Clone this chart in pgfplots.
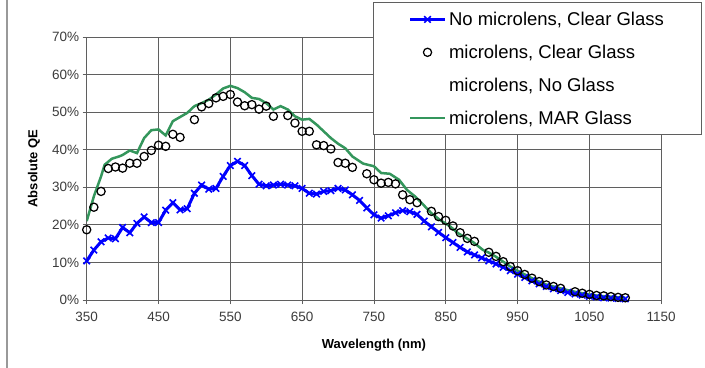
\documentclass[border=0pt]{standalone}
\usepackage{pgfplots}
\pgfplotsset{compat=1.18}
\usepackage{fontspec}
\setmainfont{Liberation Sans}
\definecolor{qeblue}{RGB}{0,0,255}
\definecolor{qegreen}{RGB}{52,150,92}
\definecolor{gridgray}{RGB}{95,95,95}
\definecolor{ticktext}{RGB}{60,60,60}
\begin{document}
\begin{tikzpicture}
\useasboundingbox (-86.7bp,-68bp) rectangle (618.3bp,300bp);
\draw[black!40, line width=1.5bp] (-79.7bp,-68bp) -- (-79.7bp,300bp);
\begin{axis}[
  at={(0,0)}, anchor=south west,
  scale only axis, width=574.5bp, height=263bp,
  xmin=350, xmax=1150, ymin=0, ymax=70,
  xtick={350,450,...,1150}, ytick={0,10,...,70},
  yticklabel={\pgfmathprintnumber{\tick}\%},
  /pgf/number format/assume math mode=true,
  /pgf/number format/1000 sep={},
  grid=major,
  major grid style={gridgray, line width=0.9bp},
  axis line style={gridgray, line width=0.9bp},
  tick align=outside, tick pos=left, major tick length=4bp,
  tick style={gridgray, line width=0.9bp},
  ticklabel style={font=\fontsize{13.5bp}{15bp}\selectfont, text=ticktext},
  xticklabel style={yshift=-5bp},
  xlabel={Wavelength (nm)}, ylabel={Absolute QE},
  label style={font=\fontsize{13bp}{15bp}\selectfont\bfseries},
  xlabel style={at={(axis description cs:0.5,-0.171)}, anchor=center},
  ylabel style={at={(axis description cs:-0.0917,0.5)}, anchor=center},
  legend image code/.code={\draw[mark repeat=2,mark phase=2,#1] plot coordinates {(0bp,0bp) (17.5bp,0bp) (35bp,0bp)};},
  legend style={at={(axis description cs:0.4984,1.1313)}, anchor=north west,
    font=\fontsize{18.5bp}{22bp}\selectfont, draw=gridgray, line width=1bp,
    fill=white, inner xsep=35bp, inner ysep=6.5bp, row sep=13bp,
    nodes={inner sep=2.5bp}},
  legend cell align=left,
]
\addplot[qeblue, line width=3bp, mark=x, mark size=4.6bp, mark options={line width=1.6bp}] coordinates {
(350,10.4)(360,13.3)(370,15.5)(380,16.5)(390,16.3)(400,19.3)(410,17.9)(420,20.4)
(430,22.1)(440,20.6)(450,20.6)(460,23.9)(470,25.9)(480,24.0)(490,24.3)(500,28.4)
(510,30.6)(520,29.5)(530,29.7)(540,32.9)(550,35.8)(560,36.9)(570,35.8)(580,33.1)
(590,30.8)(600,30.4)(610,30.6)(620,30.8)(630,30.6)(640,30.4)(650,29.7)(660,28.4)
(670,28.2)(680,28.9)(690,29.1)(700,29.7)(710,29.3)(720,28.0)(730,26.5)(740,24.5)
(750,22.7)(760,21.8)(770,22.4)(780,23.2)(790,23.8)(800,23.5)(810,22.8)(820,21.0)
(830,19.5)(840,18.0)(850,16.6)(860,15.3)(870,14.0)(880,12.8)(890,12.0)(900,11.2)
(910,10.4)(920,9.6)(930,8.7)(940,7.8)(950,6.9)(960,6.0)(970,5.1)(980,4.3)
(990,3.6)(1000,3.0)(1010,2.5)(1020,2.0)(1030,1.6)(1040,1.3)(1050,1.0)(1060,0.8)
(1070,0.6)(1080,0.5)(1090,0.4)(1100,0.3)
};
\addlegendentry{No microlens, Clear Glass}
\addplot[only marks, black, mark=o, mark size=4.1bp, mark options={line width=1.25bp}] coordinates {
(350,18.7)(360,24.7)(370,28.9)(380,35.0)(390,35.4)(400,35.1)(410,36.4)(420,36.4)
(430,38.2)(440,39.8)(450,41.2)(460,40.9)(470,44.1)(480,43.3)(500,48.0)(510,51.4)
(520,52.3)(530,53.8)(540,54.2)(550,54.7)(560,52.7)(570,51.7)(580,52.0)(590,50.8)
(600,51.6)(610,48.9)(630,49.1)(640,47.1)(650,44.9)(660,44.9)(670,41.3)(680,41.1)
(690,40.2)(700,36.6)(710,36.4)(720,35.3)(740,33.6)(750,32.0)(760,31.1)(770,31.3)
(780,30.9)(790,28.0)(800,26.7)(810,25.9)(830,23.6)(840,22.2)(850,21.2)(860,19.7)
(870,17.9)(880,16.4)(890,15.6)(910,12.7)(920,11.6)(930,10.2)(940,8.9)(950,7.8)
(960,6.8)(970,5.8)(980,4.9)(990,4.0)(1000,3.6)(1010,3.1)(1030,2.2)(1040,1.8)
(1050,1.5)(1060,1.2)(1070,1.1)(1080,0.9)(1090,0.7)(1100,0.6)
};
\addlegendentry{microlens, Clear Glass}
\addlegendimage{legend image code/.code={}}
\addlegendentry{microlens, No Glass}
\addplot[qegreen, line width=2.5bp, no marks] coordinates {
(350,21.0)(360,27.6)(370,32.9)(375,36.0)(385,37.6)(395,38.2)(400,38.6)(410,39.8)
(420,39.1)(430,43.1)(440,45.2)(450,45.4)(460,43.8)(470,47.6)(480,48.7)(490,49.8)
(500,51.6)(510,52.4)(520,53.3)(530,54.7)(540,56.3)(550,57.0)(560,56.4)(570,55.3)
(580,53.8)(590,53.5)(600,52.4)(610,50.7)(620,51.6)(630,50.7)(640,48.9)(650,48.0)
(660,48.2)(670,46.7)(680,44.9)(690,43.1)(700,41.6)(710,40.4)(720,38.2)(735,36.3)
(750,35.6)(760,33.8)(772,33.6)(785,32.0)(796,29.3)(807,27.6)(819,25.3)(830,23.1)
(842,21.3)(856,19.6)(867,17.8)(888,15.4)(902,13.3)(910,12.6)(920,11.5)(930,10.2)
(940,8.9)(950,7.8)(960,6.8)(970,5.8)(980,4.9)(990,4.1)(1000,3.6)(1010,3.1)
(1020,2.6)(1030,2.2)(1040,1.8)(1050,1.5)(1060,1.2)(1070,1.0)(1080,0.9)(1090,0.7)
(1100,0.6)
};
\addlegendentry{microlens, MAR Glass}
\end{axis}
\end{tikzpicture}
\end{document}
